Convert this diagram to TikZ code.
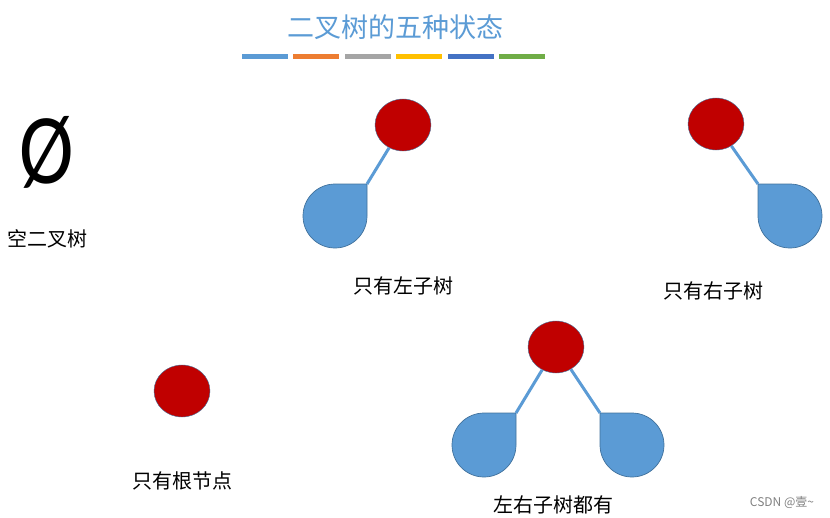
\documentclass[tikz,border=0pt]{standalone}
\usepackage{fontspec}
\newfontfamily\cjk{Noto Sans CJK SC}
\newfontfamily\symfont{Carlito}
\usetikzlibrary{shapes.geometric,positioning}

\definecolor{nodered}{HTML}{C00000}
\definecolor{subblue}{HTML}{5B9BD5}
\definecolor{edgeblue}{HTML}{41719C}
\definecolor{barorange}{HTML}{ED7D31}
\definecolor{bargray}{HTML}{A5A5A5}
\definecolor{bargold}{HTML}{FFC000}
\definecolor{bardark}{HTML}{4472C4}
\definecolor{bargreen}{HTML}{70AD47}

\begin{document}
\begin{tikzpicture}[
  x=1pt,y=1pt,
  treenode/.style={ellipse,draw=edgeblue,fill=nodered,minimum width=56pt,minimum height=52pt,inner sep=0pt},
  nametext/.style={font=\cjk\fontsize{20}{20}\selectfont,inner sep=0pt},
  link/.style={draw=subblue,line width=3pt},
  bar/.style={rectangle,minimum width=46pt,minimum height=5pt,inner sep=0pt},
  node distance=5pt,
  lsub/.pic={
    \fill[subblue,draw=edgeblue,line width=0.7pt] (32,32) -- (32,0) arc[start angle=0,end angle=-270,radius=32] -- cycle;
    \coordinate (-top) at (32,32);
  },
  rsub/.pic={
    \fill[subblue,draw=edgeblue,line width=0.7pt] (-32,32) -- (-32,0) arc[start angle=180,end angle=450,radius=32] -- cycle;
    \coordinate (-top) at (-32,32);
  }
]
  \useasboundingbox (0,0) rectangle (830,-517);

  % title and colour bars
  \node[font=\cjk\fontsize{27}{27}\selectfont,text=subblue] (title) at (395,-27) {二叉树的五种状态};
  \node[bar,fill=subblue] (bar1) at (265,-56.5) {};
  \node[bar,fill=barorange,right=of bar1] (bar2) {};
  \node[bar,fill=bargray,right=of bar2] (bar3) {};
  \node[bar,fill=bargold,right=of bar3] (bar4) {};
  \node[bar,fill=bardark,right=of bar4] (bar5) {};
  \node[bar,fill=bargreen,right=of bar5] (bar6) {};

  % empty tree
  \node[font=\symfont\fontsize{100}{100}\selectfont,inner sep=0pt,xscale=0.82] (empty) at (47,-152) {Ø};
  \node[nametext] (emptytxt) at (48,-239) {空二叉树};

  % left subtree only
  \node[treenode] (lroot) at (403,-125) {};
  \pic (lleft) at (335,-216) {lsub};
  \draw[link] (lroot) -- (lleft-top);
  \node[nametext] (ltxt) at (403,-286) {只有左子树};

  % right subtree only
  \node[treenode] (rroot) at (716,-124) {};
  \pic (rright) at (790,-216) {rsub};
  \draw[link] (rroot) -- (rright-top);
  \node[nametext] (rtxt) at (713,-291) {只有右子树};

  % root only
  \node[treenode] (solo) at (182,-391) {};
  \node[nametext] (solotxt) at (182,-481) {只有根节点};

  % both subtrees
  \node[treenode] (broot) at (556,-347) {};
  \pic (bleft) at (484,-445) {lsub};
  \pic (bright) at (632,-445) {rsub};
  \draw[link] (broot) -- (bleft-top);
  \draw[link] (broot) -- (bright-top);
  \node[nametext] (btxt) at (553,-505) {左右子树都有};

  \node[font=\cjk\fontsize{12}{12}\selectfont,text=gray,inner sep=0pt] (mark) at (782,-502) {CSDN @壹\textasciitilde};
\end{tikzpicture}
\end{document}
